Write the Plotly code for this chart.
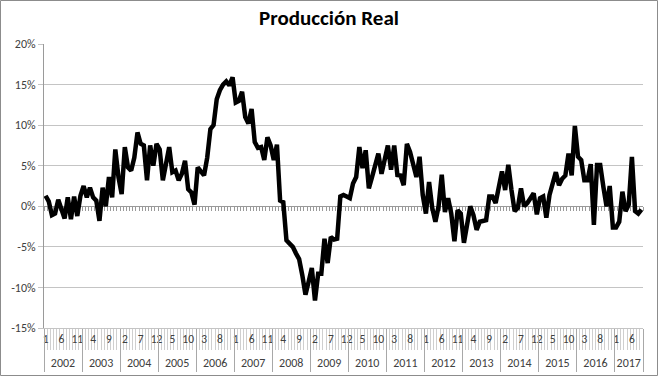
import plotly.graph_objects as go

# ---------------- data ----------------
years = list(range(2002, 2018))
months_in_year = [12] * 15 + [9]          # series runs Jan-2002 .. Sep-2017
label_step = 5                             # a month label every 5 months

values = [
    # 2002
    1.3, 0.6, -1.1, -0.9, 0.8, -0.2, -1.5, 1.1, -1.6, 1.2, -1.2, 1.3,
    # 2003
    2.5, 1.1, 2.3, 1.1, 0.7, -1.8, 2.3, 0.0, 3.6, 1.1, 7.0, 3.6,
    # 2004
    1.5, 7.3, 4.8, 4.4, 6.0, 9.1, 7.7, 7.5, 3.2, 7.5, 5.0, 7.7,
    # 2005
    7.0, 3.2, 5.3, 7.3, 4.2, 4.4, 3.2, 4.0, 5.6, 2.1, 1.7, 0.2,
    # 2006
    4.8, 4.3, 3.8, 6.0, 9.5, 10.0, 13.2, 14.3, 15.0, 15.4, 14.9, 15.9,
    # 2007
    12.8, 13.0, 14.1, 11.0, 10.2, 12.0, 7.9, 7.2, 7.3, 5.7, 8.5, 7.5,
    # 2008
    5.7, 7.6, 0.7, 0.5, -4.2, -4.6, -5.0, -5.8, -6.5, -8.5, -10.9, -9.3,
    # 2009
    -7.6, -11.6, -8.3, -8.3, -4.0, -7.0, -3.8, -4.1, -4.0, 1.2, 1.4, 1.2,
    # 2010
    1.0, 2.8, 3.6, 7.3, 4.7, 6.9, 2.2, 3.6, 5.0, 6.5, 4.0, 5.9,
    # 2011
    7.5, 4.5, 7.5, 3.85, 3.8, 2.6, 7.7, 6.7, 5.1, 3.6, 6.1, 1.4,
    # 2012
    -0.9, 3.0, -0.2, -1.9, 0.0, 3.9, -0.7, 1.0, -0.9, -4.3, -0.5, -0.9,
    # 2013
    -4.5, -2.3, 0.0, -1.1, -2.9, -1.9, -1.8, -1.7, 1.2, 1.2, 0.4, 2.4,
    # 2014
    4.3, 2.0, 5.1, 2.0, -0.6, -0.2, 2.2, 0.0, 0.4, 1.0, 1.6, -1.0,
    # 2015
    1.0, 1.2, -1.4, 1.4, 3.1, 4.2, 2.6, 3.4, 3.8, 6.5, 3.8, 9.9,
    # 2016
    6.1, 5.7, 3.2, 3.2, 5.2, -2.3, 5.1, 5.1, 2.4, 0.0, 2.5, -2.6,
    # 2017
    -2.6, -1.9, 1.8, -0.6, 0.2, 6.1, -0.6, -0.9, -0.4,
]

y_ticks = [-15, -10, -5, 0, 5, 10, 15, 20]
y_tick_labels = [f"{v}%" for v in y_ticks]
title_text = "Producción Real"

# ---------------- derived category helpers ----------------
N = len(values)
month_numbers = [(i % 12) + 1 for i in range(N)]
x_cat = [i + 0.5 for i in range(N)]

month_tickvals = [i + 0.5 for i in range(0, N, label_step)]
month_ticktext = [str(month_numbers[i]) for i in range(0, N, label_step)]

year_starts = []
s = 0
for m in months_in_year:
    year_starts.append(s)
    s += m
year_bounds = year_starts + [N]
year_centers = [st + m / 2 for st, m in zip(year_starts, months_in_year)]
year_text = [str(y) for y in years]

# ---------------- layout geometry ----------------
W, H = 658, 376
L, R, T, B = 44, 15, 44, 48
pw, ph = W - L - R, H - T - B
ymin, ymax = -15, 20
zero_pos = (0 - ymin) / (ymax - ymin)

FONT = "Carlito, Lato, 'Open Sans', sans-serif"
grid_c = "#c4c4c4"
axis_c = "#9a9a9a"
txt_c = "#404040"

fig = go.Figure()
fig.add_trace(go.Scatter(x=x_cat, y=values, mode="lines", line=dict(width=0),
                         opacity=0, xaxis="x2", yaxis="y", hoverinfo="skip", showlegend=False))
fig.add_trace(go.Scatter(x=x_cat, y=values, mode="lines", line=dict(width=0),
                         opacity=0, xaxis="x3", yaxis="y", hoverinfo="skip", showlegend=False))
fig.add_trace(go.Scatter(
    x=x_cat, y=values, mode="lines",
    line=dict(color="black", width=4.5),
    xaxis="x", yaxis="y", hoverinfo="skip", showlegend=False,
))

fig.update_layout(
    width=W, height=H,
    margin=dict(l=L, r=R, t=T, b=B, pad=0, autoexpand=False),
    paper_bgcolor="white", plot_bgcolor="white",
    font=dict(family=FONT, color=txt_c, size=11),
    showlegend=False,
    title=dict(text=f"<b>{title_text}</b>", x=0.5, xref="container", xanchor="center",
               y=1 - 18 / H, yref="container", yanchor="middle",
               font=dict(family=FONT, size=21, color="black")),
    xaxis=dict(
        range=[0, N], tickmode="array", tickvals=month_tickvals, ticktext=month_ticktext,
        ticks="", showgrid=False, zeroline=False, showline=True, linecolor=grid_c,
        tickfont=dict(size=11.5, color=txt_c), layer="below traces", fixedrange=True,
        automargin=False,
        minor=dict(tickmode="array", tickvals=list(range(N + 1)), ticks="outside",
                   ticklen=21, tickcolor="#cfcfcf", tickwidth=1, showgrid=False),
    ),
    xaxis2=dict(
        overlaying="x", anchor="y", side="bottom", range=[0, N],
        tickmode="array", tickvals=year_centers, ticktext=year_text, ticks="",
        ticklabelstandoff=26, showgrid=False, zeroline=False, showline=False,
        tickfont=dict(size=12, color=txt_c), layer="below traces", fixedrange=True,
        automargin=False,
        minor=dict(tickmode="array", tickvals=year_bounds, ticks="outside",
                   ticklen=43, tickcolor="#a8a8a8", tickwidth=1, showgrid=False),
    ),
    xaxis3=dict(
        overlaying="x", anchor="free", position=zero_pos, side="bottom", range=[0, N],
        showticklabels=False, ticks="", showgrid=False, zeroline=False,
        showline=True, linecolor=axis_c, linewidth=1, layer="below traces", fixedrange=True,
        automargin=False,
        minor=dict(tickmode="array", tickvals=list(range(N + 1)), ticks="outside",
                   ticklen=4, tickcolor=axis_c, tickwidth=1, showgrid=False),
    ),
    yaxis=dict(
        range=[ymin, ymax], tickmode="array", tickvals=y_ticks, ticktext=y_tick_labels,
        showgrid=True, gridcolor=grid_c, gridwidth=1, zeroline=False,
        showline=True, linecolor=axis_c, ticks="outside", ticklen=5, tickcolor=grid_c,
        tickfont=dict(size=12, color=txt_c), layer="below traces", fixedrange=True,
        automargin=False,
    ),
    shapes=[dict(type="rect", xref="paper", yref="paper",
                 x0=(-L + 0.5) / pw, x1=1 + (R - 0.5) / pw,
                 y0=(-B + 0.5) / ph, y1=1 + (T - 0.5) / ph,
                 line=dict(color="#8c8c8c", width=1), fillcolor="rgba(0,0,0,0)",
                 layer="above")],
)

fig.write_html(
    "out.html",
    config={"displayModeBar": False},
    post_script="document.body.style.margin='0';document.body.style.overflow='hidden';",
)
